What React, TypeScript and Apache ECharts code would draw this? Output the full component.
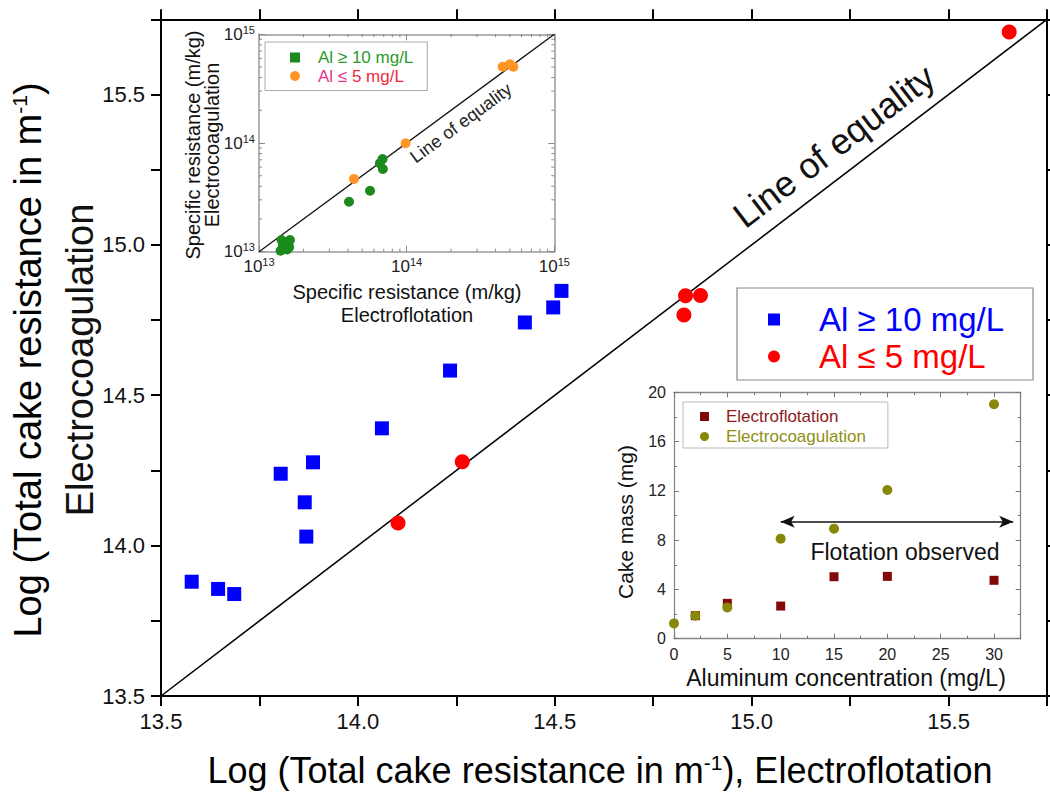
import React, { useEffect, useRef } from 'react';
import * as echarts from 'echarts';

const FONT = '"Liberation Sans", Arial, Helvetica, sans-serif';

// ---- Main chart: log10 of total cake resistance (m^-1)
const highAlFlot = [13.578, 13.645, 13.686, 13.804, 13.865, 13.869, 13.886, 14.061, 14.234, 14.424, 14.496, 14.517];
const highAlCoag = [13.88, 13.856, 13.839, 14.239, 14.144, 14.03, 14.277, 14.39, 14.582, 14.742, 14.792, 14.847];
const lowAlFlot = [14.102, 14.265, 14.828, 14.832, 14.87, 15.654];
const lowAlCoag = [14.075, 14.279, 14.767, 14.831, 14.832, 15.708];
const mainRange = [13.5, 15.75];

// ---- Inset 1: specific resistance (m/kg)
const insHighFlot = [1.42e13, 1.62e13, 1.45e13, 1.55e13, 1.4e13, 1.5e13, 1.6e13, 4.07e13, 5.65e13, 6.59e13, 6.87e13, 6.9e13];
const insHighCoag = [1.28e13, 1.28e13, 1.12e13, 1.05e13, 1.02e13, 1.2e13, 1.1e13, 2.88e13, 3.64e13, 6.5e13, 7.13e13, 5.77e13];
const insLowFlot = [4.4e13, 9.84e13, 4.47e14, 5.01e14, 5.28e14];
const insLowCoag = [4.67e13, 9.94e13, 5.04e14, 5.3e14, 5.04e14];
const insRange = [1e13, 1e15];
const insMinorMultipliers = [2, 3, 4, 5, 6, 7, 8, 9];
const insDecades = [1e13, 1e14];

// ---- Inset 2: cake mass vs aluminum concentration
const flotConc = [2, 5, 10, 15, 20, 30];
const flotMass = [1.87, 2.87, 2.65, 5.03, 5.06, 4.74];
const coagConc = [0, 2, 5, 10, 15, 20, 30];
const coagMass = [1.24, 1.87, 2.54, 8.12, 8.93, 12.07, 19.03];
const flotationObservedFrom = 10;
const flotationObservedTo = 31.8;
const flotationArrowMass = 9.5;

const zip = (a: number[], b: number[]) => a.map((v, i) => [v, b[i]]);
const lg = (a: number[]) => a.map((v) => Math.log10(v));

export default function App() {
  const ref = useRef<HTMLDivElement>(null);
  useEffect(() => {
    if (!ref.current) return;
    const chart = echarts.init(ref.current, null, { renderer: 'svg' });

    const mainAxisCommon = (position: string, show: boolean) => ({
      type: 'value',
      gridIndex: 0,
      position,
      min: mainRange[0],
      max: mainRange[1],
      interval: 0.25,
      splitLine: { show: false },
      axisLine: { show: true, onZero: false, lineStyle: { color: '#000', width: 2 } },
      axisTick: { show: true, length: 10, lineStyle: { color: '#000', width: 2 } },
      axisLabel: {
        show,
        fontSize: 22,
        color: '#111',
        fontFamily: FONT,
        margin: position === 'bottom' ? 14 : 16,
        formatter: (v: number) => (Math.abs(v * 2 - Math.round(v * 2)) < 1e-6 ? v.toFixed(1) : ''),
      },
    });

    const supLabel = (v: number) =>
      Math.abs(v - Math.round(v)) < 1e-6 ? `{b|10}{s|${Math.round(v)}}` : '';
    const supRich = {
      b: { fontSize: 17, color: '#222', fontFamily: FONT, lineHeight: 20 },
      s: { fontSize: 11, color: '#222', fontFamily: FONT, verticalAlign: 'top', lineHeight: 11 },
    };
    const ins1Axis = (position: string, show: boolean) => ({
      type: 'value',
      gridIndex: 1,
      position,
      min: Math.log10(insRange[0]),
      max: Math.log10(insRange[1]),
      interval: 1,
      splitLine: { show: false },
      axisLine: { show: true, onZero: false, lineStyle: { color: '#999', width: 1.5 } },
      axisTick: { show: true, inside: true, length: 6, lineStyle: { color: '#888', width: 1 } },
      axisLabel: {
        show,
        margin: position === 'bottom' ? 5 : 4,
        formatter: supLabel,
        rich: supRich,
      },
    });

    const ins2X = (position: string, show: boolean) => ({
      type: 'value',
      gridIndex: 2,
      position,
      min: 0,
      max: 32.5,
      interval: 5,
      splitLine: { show: false },
      axisLine: { show: true, onZero: false, lineStyle: { color: '#888', width: 1.3 } },
      axisTick: { show: true, inside: true, length: 5, lineStyle: { color: '#777', width: 1 } },
      minorTick: { show: true, splitNumber: 2, length: 3, lineStyle: { color: '#777', width: 1 } },
      axisLabel: {
        show,
        fontSize: 16,
        color: '#222',
        fontFamily: FONT,
        margin: 8,
        formatter: (v: number) => (v % 5 === 0 ? String(v) : ''),
      },
    });
    const ins2Y = (position: string, show: boolean) => ({
      type: 'value',
      gridIndex: 2,
      position,
      min: 0,
      max: 20,
      interval: 4,
      splitLine: { show: false },
      axisLine: { show: true, onZero: false, lineStyle: { color: '#888', width: 1.3 } },
      axisTick: { show: true, inside: true, length: 5, lineStyle: { color: '#777', width: 1 } },
      minorTick: { show: true, splitNumber: 2, length: 3, lineStyle: { color: '#777', width: 1 } },
      axisLabel: { show, fontSize: 16, color: '#222', fontFamily: FONT, margin: 8 },
    });

    const minorLogs: number[] = [];
    insDecades.forEach((d) => insMinorMultipliers.forEach((m) => minorLogs.push(Math.log10(d * m))));
    const lo = Math.log10(insRange[0]);
    const hi = Math.log10(insRange[1]);

    const supT = { fontSize: 36, color: '#111', fontFamily: FONT };
    const supS = { fontSize: 21, color: '#111', fontFamily: FONT, verticalAlign: 'top', lineHeight: 20 };

    const scatterBase = { emphasis: { disabled: true }, z: 3 };

    const option: any = {
      animation: false,
      backgroundColor: '#fff',
      textStyle: { fontFamily: FONT },
      grid: [
        { left: 161, top: 19.3, width: 886.7, height: 676.7 },
        { left: 259, top: 34.3, width: 295.3, height: 217.4 },
        { left: 674, top: 392.3, width: 346.7, height: 246.4 },
      ],
      xAxis: [
        mainAxisCommon('bottom', true),
        mainAxisCommon('top', false),
        ins1Axis('bottom', true),
        ins1Axis('top', false),
        ins2X('bottom', true),
        ins2X('top', false),
      ],
      yAxis: [
        mainAxisCommon('left', true),
        mainAxisCommon('right', false),
        ins1Axis('left', true),
        ins1Axis('right', false),
        ins2Y('left', true),
        ins2Y('right', false),
      ],
      legend: [
        {
          orient: 'vertical',
          left: 737,
          top: 288,
          padding: [15, 29, 7, 31],
          itemWidth: 12,
          itemHeight: 12,
          itemGap: 4,
          borderColor: '#888',
          borderWidth: 1.2,
          selectedMode: false,
          data: [
            { name: 'mainHigh', icon: 'rect' },
            { name: 'mainLow', icon: 'circle' },
          ],
          formatter: (n: string) => (n === 'mainHigh' ? '{h|Al ≥ 10 mg/L}' : '{l|Al ≤ 5 mg/L}'),
          textStyle: {
            fontSize: 33,
            rich: {
              h: { fontSize: 33, color: '#0000ff', fontFamily: FONT, padding: [0, 0, 0, 34] },
              l: { fontSize: 33, color: '#ff0000', fontFamily: FONT, padding: [0, 0, 0, 34] },
            },
          },
        },
        {
          orient: 'vertical',
          left: 265,
          top: 42,
          padding: [7, 14, 6, 25],
          itemWidth: 10,
          itemHeight: 10,
          itemGap: 1.5,
          borderColor: '#aaa',
          borderWidth: 1,
          selectedMode: false,
          data: [
            { name: 'insHigh', icon: 'rect' },
            { name: 'insLow', icon: 'circle' },
          ],
          formatter: (n: string) => (n === 'insHigh' ? '{g|Al ≥ 10 mg/L}' : '{m|Al ≤ }{r|5 mg/L}'),
          textStyle: {
            fontSize: 17,
            rich: {
              g: { fontSize: 17, color: '#2a9a2a', fontFamily: FONT, padding: [0, 0, 0, 13] },
              m: { fontSize: 17, color: '#e3358c', fontFamily: FONT, padding: [0, 0, 0, 13] },
              r: { fontSize: 17, color: '#ee2a40', fontFamily: FONT },
            },
          },
        },
        {
          orient: 'vertical',
          left: 683,
          top: 402,
          padding: [6, 22, 3, 17],
          itemWidth: 9,
          itemHeight: 9,
          itemGap: 3,
          borderColor: '#bbb',
          borderWidth: 1,
          selectedMode: false,
          data: [
            { name: 'flot', icon: 'rect' },
            { name: 'coag', icon: 'circle' },
          ],
          formatter: (n: string) => (n === 'flot' ? '{a|Electroflotation}' : '{b|Electrocoagulation}'),
          textStyle: {
            fontSize: 17,
            rich: {
              a: { fontSize: 17, color: '#8b1a1a', fontFamily: FONT, padding: [0, 0, 0, 12] },
              b: { fontSize: 17, color: '#8f8f14', fontFamily: FONT, padding: [0, 0, 0, 12] },
            },
          },
        },
      ],
      series: [
        {
          type: 'line',
          name: 'mainEquality',
          xAxisIndex: 0,
          yAxisIndex: 0,
          data: [
            [mainRange[0], mainRange[0]],
            [mainRange[1], mainRange[1]],
          ],
          symbol: 'none',
          silent: true,
          lineStyle: { color: '#000', width: 1.5 },
          z: 1,
        },
        {
          ...scatterBase,
          type: 'scatter',
          name: 'mainHigh',
          xAxisIndex: 0,
          yAxisIndex: 0,
          symbol: 'rect',
          symbolSize: 14,
          itemStyle: { color: '#0000ff', opacity: 1 },
          data: zip(highAlFlot, highAlCoag),
        },
        {
          ...scatterBase,
          type: 'scatter',
          name: 'mainLow',
          xAxisIndex: 0,
          yAxisIndex: 0,
          symbol: 'circle',
          symbolSize: 15,
          itemStyle: { color: '#ff0000', opacity: 1 },
          data: zip(lowAlFlot, lowAlCoag),
        },
        {
          type: 'line',
          name: 'insEquality',
          xAxisIndex: 2,
          yAxisIndex: 2,
          data: [
            [lo, lo],
            [hi, hi],
          ],
          symbol: 'none',
          silent: true,
          lineStyle: { color: '#111', width: 1.3 },
          z: 1,
        },
        {
          type: 'custom',
          name: 'insMinorTicks',
          xAxisIndex: 2,
          yAxisIndex: 2,
          silent: true,
          clip: false,
          data: minorLogs.map((v) => [v, lo]),
          renderItem: (params: any, api: any) => {
            const v = api.value(0);
            const b = api.coord([v, lo]);
            const t = api.coord([v, hi]);
            const l = api.coord([lo, v]);
            const r = api.coord([hi, v]);
            const st = { stroke: '#888', lineWidth: 1 };
            return {
              type: 'group',
              children: [
                { type: 'line', shape: { x1: b[0], y1: b[1], x2: b[0], y2: b[1] - 3 }, style: st },
                { type: 'line', shape: { x1: t[0], y1: t[1], x2: t[0], y2: t[1] + 3 }, style: st },
                { type: 'line', shape: { x1: l[0], y1: l[1], x2: l[0] + 3, y2: l[1] }, style: st },
                { type: 'line', shape: { x1: r[0], y1: r[1], x2: r[0] - 3, y2: r[1] }, style: st },
              ],
            };
          },
        },
        {
          ...scatterBase,
          type: 'scatter',
          name: 'insHigh',
          xAxisIndex: 2,
          yAxisIndex: 2,
          symbol: 'circle',
          symbolSize: 10,
          itemStyle: { color: '#1c8a1c', opacity: 1 },
          data: zip(lg(insHighFlot), lg(insHighCoag)),
        },
        {
          ...scatterBase,
          type: 'scatter',
          name: 'insLow',
          xAxisIndex: 2,
          yAxisIndex: 2,
          symbol: 'circle',
          symbolSize: 10,
          itemStyle: { color: '#ff9526', opacity: 1 },
          data: zip(lg(insLowFlot), lg(insLowCoag)),
        },
        {
          ...scatterBase,
          type: 'scatter',
          name: 'flot',
          xAxisIndex: 4,
          yAxisIndex: 4,
          symbol: 'rect',
          symbolSize: 9,
          itemStyle: { color: '#850808', opacity: 1 },
          data: zip(flotConc, flotMass),
        },
        {
          ...scatterBase,
          type: 'scatter',
          name: 'coag',
          xAxisIndex: 4,
          yAxisIndex: 4,
          symbol: 'circle',
          symbolSize: 10,
          itemStyle: { color: '#878708', opacity: 1 },
          data: zip(coagConc, coagMass),
          z: 4,
          markLine: {
            silent: true,
            symbol: ['arrow', 'arrow'],
            symbolSize: [9, 14],
            label: { show: false },
            lineStyle: { color: '#111', width: 1.5, type: 'solid' },
            data: [
              [
                { coord: [flotationObservedFrom, flotationArrowMass] },
                { coord: [flotationObservedTo, flotationArrowMass] },
              ],
            ],
          },
        },
      ],
      graphic: [
        {
          type: 'text',
          x: 834,
          y: 146,
          rotation: 0.652,
          style: { text: 'Line of equality', fontSize: 36, fontFamily: FONT, fill: '#111', align: 'center', verticalAlign: 'middle' },
        },
        {
          type: 'text',
          x: 461,
          y: 123,
          rotation: 0.635,
          style: { text: 'Line of equality', fontSize: 18, fontFamily: FONT, fill: '#222', align: 'center', verticalAlign: 'middle' },
        },
        {
          type: 'text',
          x: 905,
          y: 552,
          style: { text: 'Flotation observed', fontSize: 23, fontFamily: FONT, fill: '#111', align: 'center', verticalAlign: 'middle' },
        },
        {
          type: 'text',
          x: 600,
          y: 770,
          style: {
            text: '{t|Log (Total cake resistance in m}{s|-1}{t|), Electroflotation}',
            rich: { t: supT, s: supS },
            align: 'center',
            verticalAlign: 'middle',
          },
        },
        {
          type: 'text',
          x: 28,
          y: 360,
          rotation: Math.PI / 2,
          style: {
            text: '{t|Log (Total cake resistance in m}{s|-1}{t|)}',
            rich: { t: { ...supT, fontSize: 38 }, s: supS },
            align: 'center',
            verticalAlign: 'middle',
          },
        },
        {
          type: 'text',
          x: 80,
          y: 360,
          rotation: Math.PI / 2,
          style: { text: 'Electrocoagulation', fontSize: 38, fontFamily: FONT, fill: '#111', align: 'center', verticalAlign: 'middle' },
        },
        {
          type: 'text',
          x: 407,
          y: 292,
          style: { text: 'Specific resistance (m/kg)', fontSize: 20, fontFamily: FONT, fill: '#111', align: 'center', verticalAlign: 'middle' },
        },
        {
          type: 'text',
          x: 407,
          y: 315,
          style: { text: 'Electroflotation', fontSize: 20, fontFamily: FONT, fill: '#111', align: 'center', verticalAlign: 'middle' },
        },
        {
          type: 'text',
          x: 193,
          y: 145,
          rotation: Math.PI / 2,
          style: { text: 'Specific resistance (m/kg)', fontSize: 20, fontFamily: FONT, fill: '#111', align: 'center', verticalAlign: 'middle' },
        },
        {
          type: 'text',
          x: 212,
          y: 145,
          rotation: Math.PI / 2,
          style: { text: 'Electrocoagulation', fontSize: 20, fontFamily: FONT, fill: '#111', align: 'center', verticalAlign: 'middle' },
        },
        {
          type: 'text',
          x: 625,
          y: 522,
          rotation: Math.PI / 2,
          style: { text: 'Cake mass (mg)', fontSize: 21, fontFamily: FONT, fill: '#111', align: 'center', verticalAlign: 'middle' },
        },
        {
          type: 'text',
          x: 846,
          y: 678,
          style: { text: 'Aluminum concentration (mg/L)', fontSize: 23, fontFamily: FONT, fill: '#111', align: 'center', verticalAlign: 'middle' },
        },
      ],
    };

    chart.setOption(option);
    return () => chart.dispose();
  }, []);

  return (
    <div
      ref={ref}
      style={{ position: 'fixed', left: 0, top: 0, width: 1050, height: 793, background: '#fff' }}
    />
  );
}
